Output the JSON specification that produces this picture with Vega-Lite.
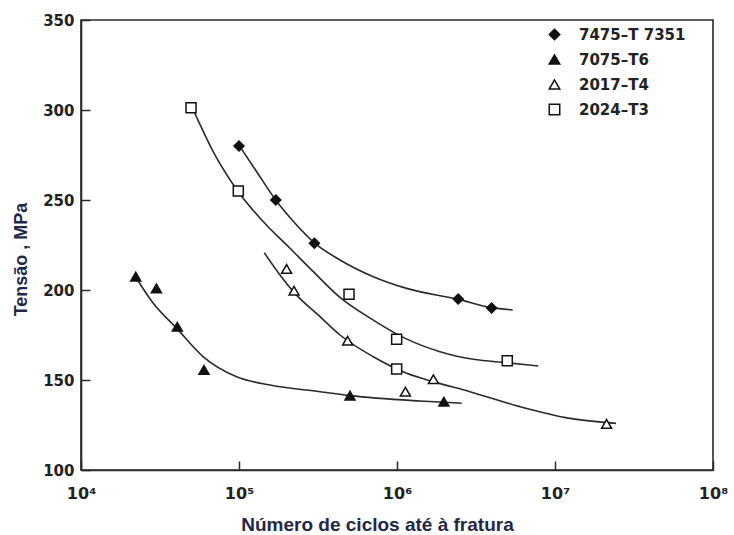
{
  "$schema": "https://vega.github.io/schema/vega-lite/v6.json",
  "width": 632,
  "height": 450,
  "autosize": {"type": "none"},
  "padding": {"left": 81, "top": 20, "right": 21, "bottom": 65},
  "background": "white",
  "config": {
    "view": {"stroke": "#2a2a2a", "strokeWidth": 1.6},
    "axis": {"grid": false, "domainColor": "#2a2a2a", "domainWidth": 1.6, "tickColor": "#2a2a2a", "tickWidth": 1.5,
      "labelFont": "DejaVu Sans", "labelFontWeight": "bold", "labelFontSize": 15, "labelColor": "#222"},
    "legend": {"orient": "none", "legendX": 466, "legendY": 7, "padding": 0,
      "labelFont": "DejaVu Sans", "labelFontWeight": "bold", "labelFontSize": 15, "labelColor": "#222",
      "symbolSize": 110, "symbolStrokeWidth": 1.5, "rowPadding": 8, "labelOffset": 17}
  },
  "datasets": {
    "pts": [
      {"alloy": "7475–T 7351", "cycles": 100000, "stress": 280},
      {"alloy": "7475–T 7351", "cycles": 171000, "stress": 250},
      {"alloy": "7475–T 7351", "cycles": 300000, "stress": 226},
      {"alloy": "7475–T 7351", "cycles": 2440000, "stress": 195},
      {"alloy": "7475–T 7351", "cycles": 3970000, "stress": 190},
      {"alloy": "7075–T6", "cycles": 22200, "stress": 207.4},
      {"alloy": "7075–T6", "cycles": 30000, "stress": 200.9},
      {"alloy": "7075–T6", "cycles": 40700, "stress": 179.6},
      {"alloy": "7075–T6", "cycles": 60000, "stress": 155.6},
      {"alloy": "7075–T6", "cycles": 504000, "stress": 141.3},
      {"alloy": "7075–T6", "cycles": 1980000, "stress": 137.9},
      {"alloy": "2017–T4", "cycles": 200000, "stress": 211.7},
      {"alloy": "2017–T4", "cycles": 223000, "stress": 199.6},
      {"alloy": "2017–T4", "cycles": 487000, "stress": 171.8},
      {"alloy": "2017–T4", "cycles": 1130000, "stress": 143.5},
      {"alloy": "2017–T4", "cycles": 1700000, "stress": 150.4},
      {"alloy": "2017–T4", "cycles": 21200000, "stress": 125.6},
      {"alloy": "2024–T3", "cycles": 49700, "stress": 301.3},
      {"alloy": "2024–T3", "cycles": 99000, "stress": 255},
      {"alloy": "2024–T3", "cycles": 497000, "stress": 197.6},
      {"alloy": "2024–T3", "cycles": 995000, "stress": 172.6},
      {"alloy": "2024–T3", "cycles": 995000, "stress": 156.1},
      {"alloy": "2024–T3", "cycles": 4990000, "stress": 160.7}
    ],
    "curves": [
      {"alloy": "7475–T 7351", "cycles": 100400, "stress": 280.2},
      {"alloy": "7475–T 7351", "cycles": 129400, "stress": 265.7},
      {"alloy": "7475–T 7351", "cycles": 170700, "stress": 250},
      {"alloy": "7475–T 7351", "cycles": 226200, "stress": 237.1},
      {"alloy": "7475–T 7351", "cycles": 302700, "stress": 225.9},
      {"alloy": "7475–T 7351", "cycles": 435600, "stress": 216.7},
      {"alloy": "7475–T 7351", "cycles": 708000, "stress": 207.4},
      {"alloy": "7475–T 7351", "cycles": 1151000, "stress": 200.9},
      {"alloy": "7475–T 7351", "cycles": 2443000, "stress": 194.8},
      {"alloy": "7475–T 7351", "cycles": 3975000, "stress": 190.2},
      {"alloy": "7475–T 7351", "cycles": 5400000, "stress": 188.9},
      {"alloy": "7075–T6", "cycles": 21970, "stress": 207.8},
      {"alloy": "7075–T6", "cycles": 28680, "stress": 192.6},
      {"alloy": "7075–T6", "cycles": 40340, "stress": 178.7},
      {"alloy": "7075–T6", "cycles": 59430, "stress": 162.9},
      {"alloy": "7075–T6", "cycles": 96700, "stress": 151.8},
      {"alloy": "7075–T6", "cycles": 157100, "stress": 147.2},
      {"alloy": "7075–T6", "cycles": 325600, "stress": 143.5},
      {"alloy": "7075–T6", "cycles": 504000, "stress": 141.3},
      {"alloy": "7075–T6", "cycles": 1398000, "stress": 138.3},
      {"alloy": "7075–T6", "cycles": 2568000, "stress": 137.1},
      {"alloy": "2017–T4", "cycles": 144600, "stress": 220.7},
      {"alloy": "2017–T4", "cycles": 181800, "stress": 208.3},
      {"alloy": "2017–T4", "cycles": 220600, "stress": 199.1},
      {"alloy": "2017–T4", "cycles": 325600, "stress": 185.2},
      {"alloy": "2017–T4", "cycles": 435600, "stress": 175},
      {"alloy": "2017–T4", "cycles": 708000, "stress": 162.9},
      {"alloy": "2017–T4", "cycles": 1152000, "stress": 153.7},
      {"alloy": "2017–T4", "cycles": 1697000, "stress": 149.1},
      {"alloy": "2017–T4", "cycles": 2897000, "stress": 143.5},
      {"alloy": "2017–T4", "cycles": 6004000, "stress": 135.2},
      {"alloy": "2017–T4", "cycles": 12440000, "stress": 128.7},
      {"alloy": "2017–T4", "cycles": 24330000, "stress": 125.9},
      {"alloy": "2024–T3", "cycles": 50630, "stress": 301.3},
      {"alloy": "2024–T3", "cycles": 68750, "stress": 276.8},
      {"alloy": "2024–T3", "cycles": 99000, "stress": 254.6},
      {"alloy": "2024–T3", "cycles": 142500, "stress": 237.9},
      {"alloy": "2024–T3", "cycles": 210200, "stress": 223.2},
      {"alloy": "2024–T3", "cycles": 295300, "stress": 210.2},
      {"alloy": "2024–T3", "cycles": 435600, "stress": 195.9},
      {"alloy": "2024–T3", "cycles": 708000, "stress": 183.3},
      {"alloy": "2024–T3", "cycles": 1071000, "stress": 174.1},
      {"alloy": "2024–T3", "cycles": 1872000, "stress": 165.7},
      {"alloy": "2024–T3", "cycles": 3040000, "stress": 161.5},
      {"alloy": "2024–T3", "cycles": 4947000, "stress": 159.6},
      {"alloy": "2024–T3", "cycles": 7840000, "stress": 157.8}
    ]
  },
  "encoding": {
    "x": {"field": "cycles", "type": "quantitative",
      "scale": {"type": "log", "domain": [10000, 100000000], "nice": false},
      "axis": {"values": [10000, 100000, 1000000, 10000000, 100000000],
        "labelExpr": "'10' + ['⁰','¹','²','³','⁴','⁵','⁶','⁷','⁸'][round(log(datum.value)/LN10)]",
        "tickSize": -9, "labelPadding": 24, "labelFlush": false, "labelFontSize": 16,
        "title": "Número de ciclos até à fratura",
        "titleFont": "Liberation Sans Narrow, Arial Narrow, sans-serif", "titleFontSize": 19, "titleFontWeight": "bold",
        "titleColor": "#1f2747", "titleY": 60, "titleBaseline": "alphabetic", "titleX": 296}},
    "y": {"field": "stress", "type": "quantitative",
      "scale": {"domain": [100, 350], "nice": false, "zero": false},
      "axis": {"values": [100, 150, 200, 250, 300, 350], "tickSize": -9, "labelPadding": 16,
        "title": "Tensão , MPa", "titleFont": "Liberation Sans", "titleFontSize": 18, "titleFontWeight": "bold",
        "titleColor": "#1f2747", "titleAngle": 270, "titleX": -60, "titleY": 239,
        "titleAlign": "center", "titleBaseline": "middle"}}
  },
  "layer": [
    {
      "data": {"name": "curves"},
      "mark": {"type": "line", "interpolate": "monotone", "color": "#2a2a2a", "strokeWidth": 1.6},
      "encoding": {"detail": {"field": "alloy"}}
    },
    {
      "data": {"name": "pts"},
      "mark": {"type": "point", "filled": false, "strokeWidth": 1.5, "opacity": 1, "size": 100},
      "encoding": {
        "shape": {"field": "alloy", "type": "nominal", "title": null,
          "scale": {"domain": ["7475–T 7351", "7075–T6", "2017–T4", "2024–T3"], "range": ["diamond", "triangle-up", "triangle-up", "square"]}},
        "fill": {"field": "alloy", "type": "nominal", "title": null,
          "scale": {"domain": ["7475–T 7351", "7075–T6", "2017–T4", "2024–T3"], "range": ["#111", "#111", "#ffffff", "#ffffff"]}},
        "stroke": {"field": "alloy", "type": "nominal", "title": null,
          "scale": {"domain": ["7475–T 7351", "7075–T6", "2017–T4", "2024–T3"], "range": ["#111", "#111", "#111", "#111"]}}
      }
    }
  ]
}
